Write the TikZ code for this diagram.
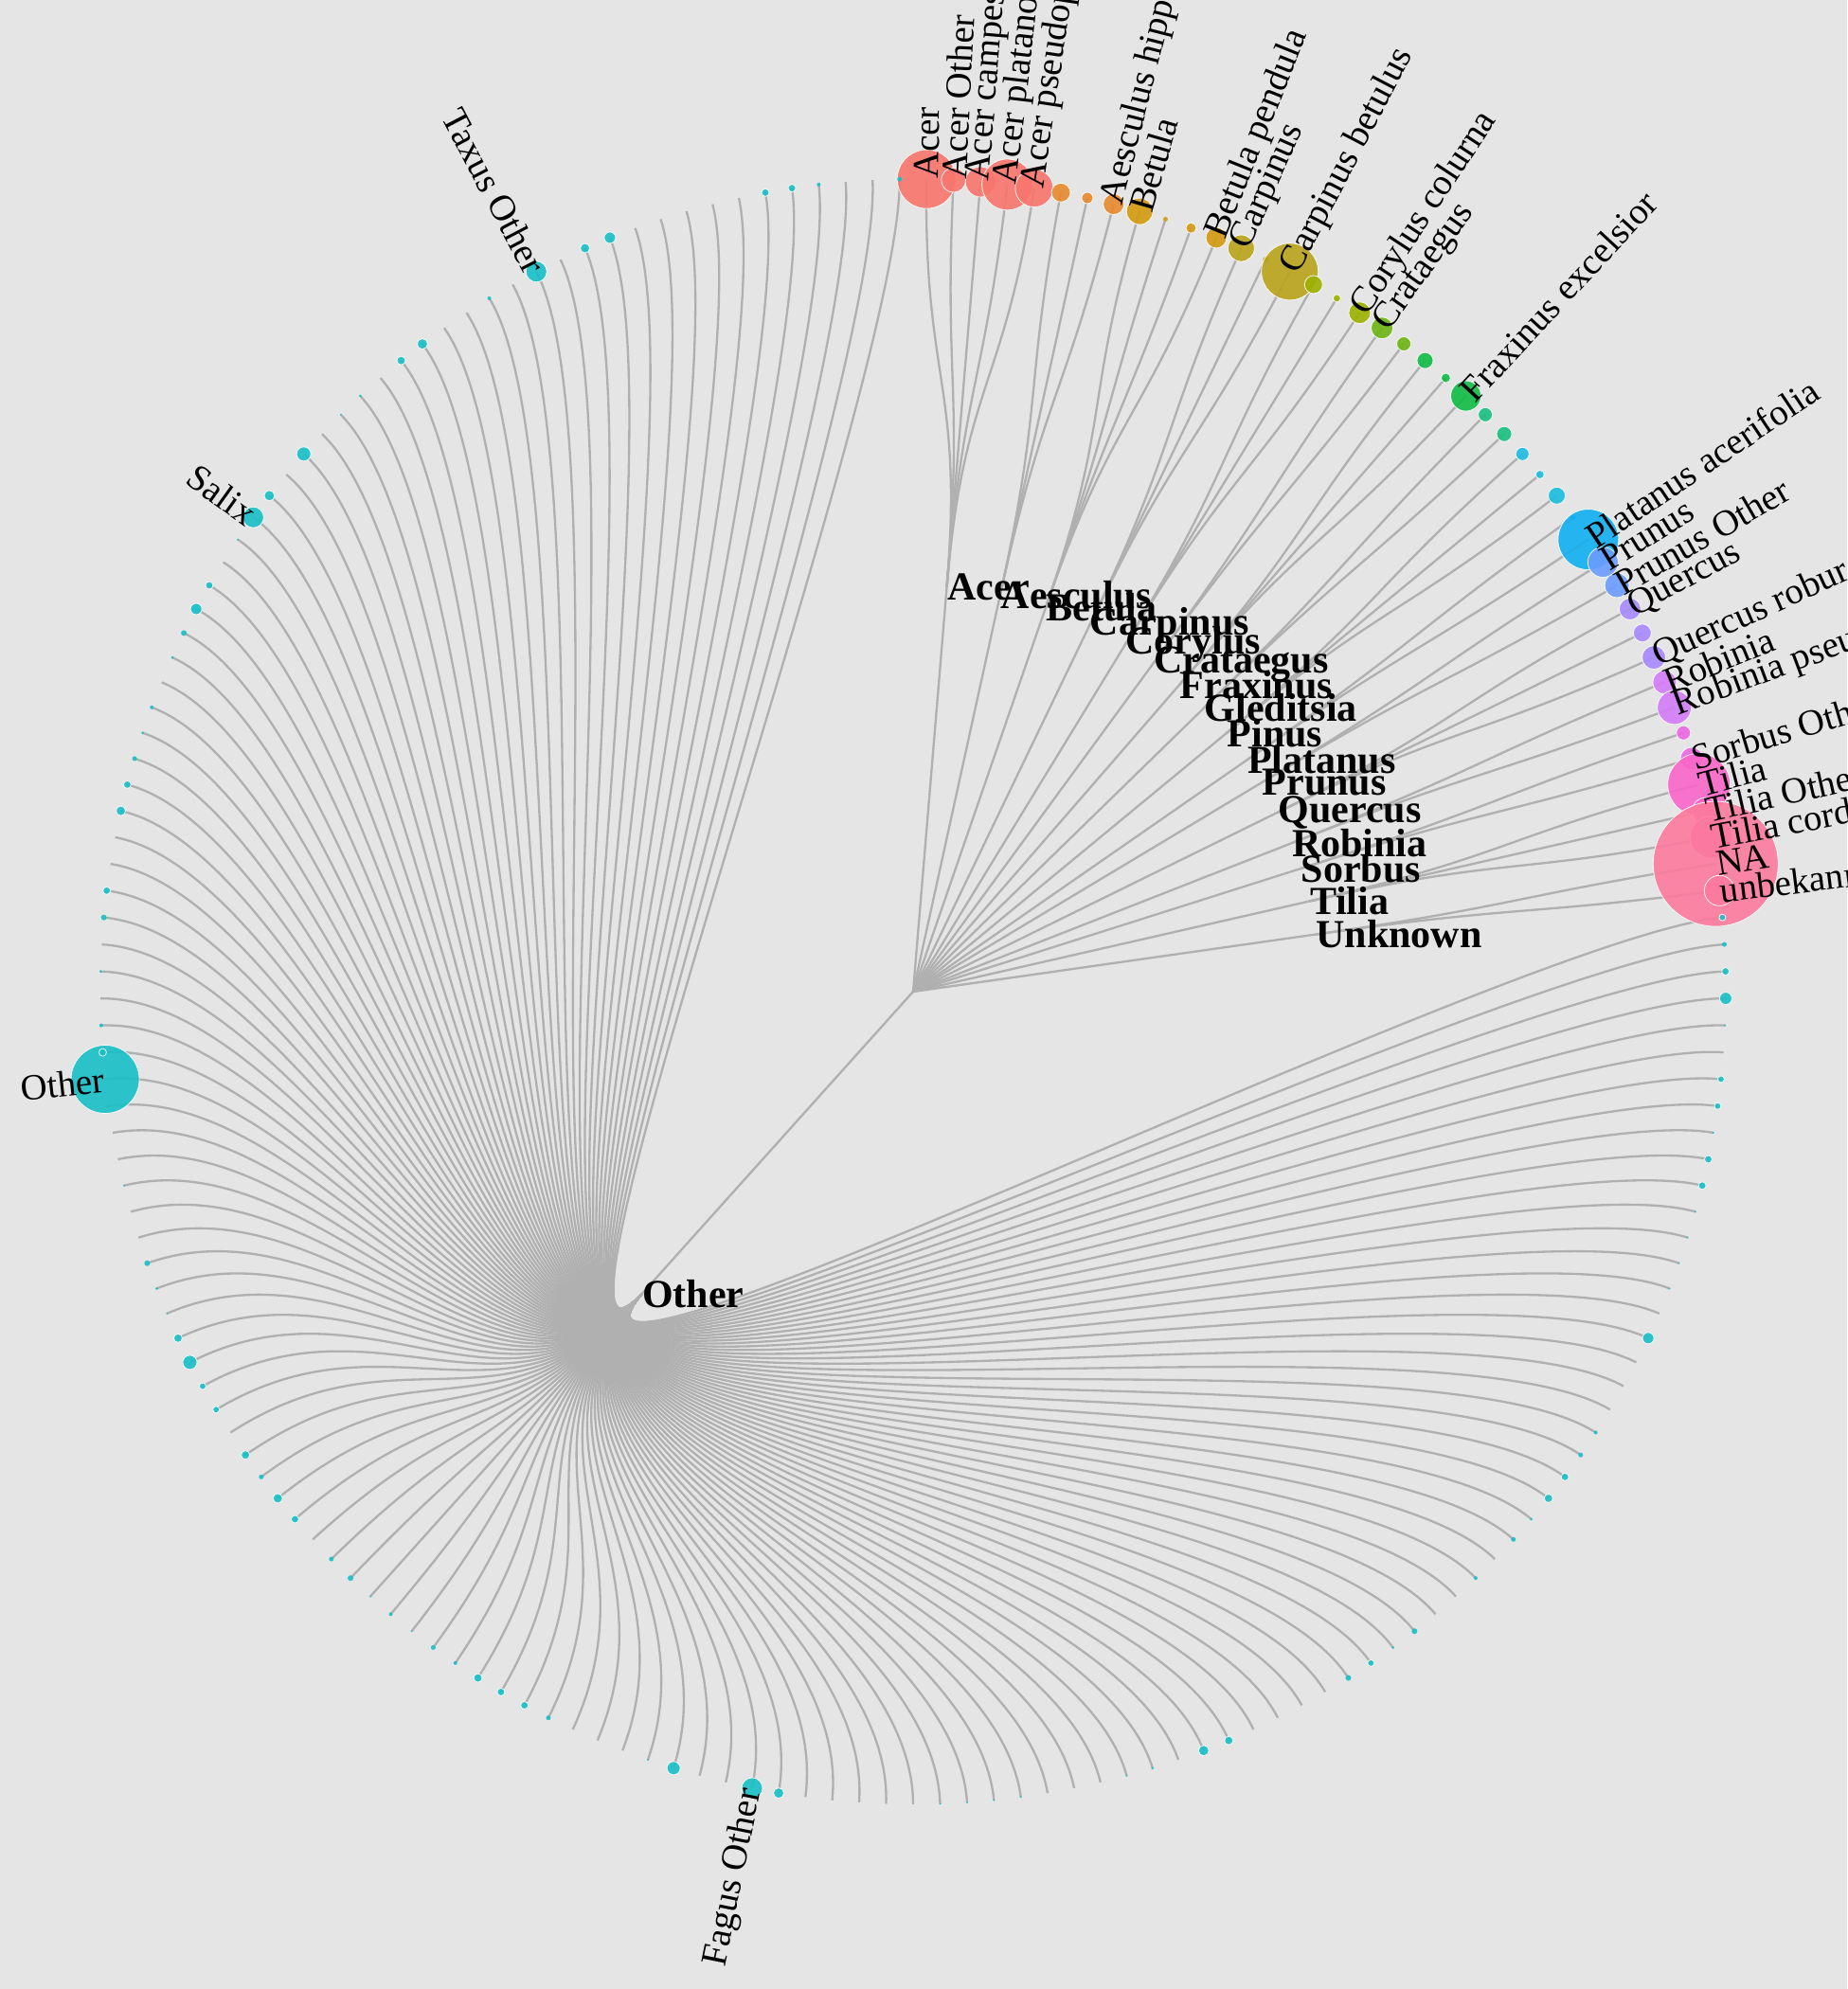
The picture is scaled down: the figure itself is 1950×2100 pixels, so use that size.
\documentclass[tikz,border=0pt]{standalone}
\usepackage{fontspec}
\setmainfont{Liberation Serif}
\usepackage{tikz}
\usetikzlibrary{calc}

\definecolor{panel}{HTML}{E5E5E5}
\definecolor{edgegrey}{HTML}{B0B0B0}
\definecolor{gc-Acer}{HTML}{F8766D}
\definecolor{gc-Aesculus}{HTML}{E8892E}
\definecolor{gc-Betula}{HTML}{D39A10}
\definecolor{gc-Carpinus}{HTML}{B9A31A}
\definecolor{gc-Corylus}{HTML}{9DB000}
\definecolor{gc-Crataegus}{HTML}{6CB512}
\definecolor{gc-Fraxinus}{HTML}{10BC45}
\definecolor{gc-Gleditsia}{HTML}{18BF80}
\definecolor{gc-Pinus}{HTML}{1BBDE0}
\definecolor{gc-Platanus}{HTML}{10AFF2}
\definecolor{gc-Prunus}{HTML}{6A9CFF}
\definecolor{gc-Quercus}{HTML}{A78AFF}
\definecolor{gc-Robinia}{HTML}{D47CF8}
\definecolor{gc-Sorbus}{HTML}{EC66E4}
\definecolor{gc-Tilia}{HTML}{FA66C8}
\definecolor{gc-Unknown}{HTML}{FC7A9D}
\definecolor{gc-Other}{HTML}{17BFC6}

% genus / first leaf / last leaf, clockwise from the top
\def\genera{Acer/0/4, Aesculus/5/7, Betula/8/11, Carpinus/12/14, Corylus/15/17,
  Crataegus/18/19, Fraxinus/20/22, Gleditsia/23/24, Pinus/25/27, Platanus/28/29,
  Prunus/30/31, Quercus/32/34, Robinia/35/36, Sorbus/37/38, Tilia/39/41,
  Unknown/42/43, Other/44/188}
% dot radius of every leaf (px)
\def\radii{{31,13,16,27,20,10,6,11,14,2.5,
  5.5,11,14,3,30,9.5,4,11.5,11.5,7.5,
  8.5,5,16,7.5,8,7,4.5,9,3,32,
  16,13,11.5,9.5,12.5,12.5,18,7.5,12,33,
  14,22,66,16,3.5,2.5,4,6.5,1,0,
  3.5,3.5,1,4,4,1,1,1,1,0,
  6,0,0,0,2,2.5,4,4.5,1.5,2.5,
  0,2,0,0,3,1.5,3.5,3,0,0,
  0,0,4.5,5.5,0,1.5,1,0,0,0,
  1,1,1,1,0,0,0,0,0,5.5,
  11,0,0,7,1,0,0,0,2.5,4,
  4,4.5,2,2.5,1,2,1,3,2.5,0,
  4,5,2.5,4.5,0,3.5,3.5,7.5,4.5,1,
  1.5,3,0,0,1,0,0,1.5,36,4,
  2,0,1.5,0,3,4,0,0,5,4,
  2.5,1.5,2,0,1.5,3,6,4,0,1,
  11,5.5,0,7.5,0,1,1.5,0,4.5,5.5,
  0,0,2,0,11,0,5,6,0,0,
  0,0,0,4,4,2,0,0,2.5}}
\def\stp{1.9047619}

\begin{document}
\begin{tikzpicture}[
  x=0.25pt, y=0.25pt,
  branch/.style={draw=edgegrey, line width=0.58pt},
  leafdot/.style={circle, inner sep=0pt, draw=white, line width=0.2pt,
                  fill opacity=0.9},
  leaflab/.style={inner sep=0pt, font=\fontsize{9.7}{11}\selectfont},
  genlab/.style={inner sep=0pt, anchor=west,
                 font=\fontsize{10.5}{12}\selectfont\bfseries},
]
\fill[panel] (-964,-1053) rectangle (986,1047);
\useasboundingbox (-964,-1053) rectangle (986,1047);
\coordinate (root) at (0,0);

% --- branches: root -> genus -> leaf ---
\foreach \g/\a/\b in \genera {
  \pgfmathsetmacro\tg{90-(\a+\b+1)/2*\stp}
  \coordinate (g-\g) at (\tg:429);
  \draw[branch] (root) -- (g-\g);
  \foreach \i in {\a,...,\b} {
    \pgfmathsetmacro\tl{90-(\i+0.5)*\stp}
    \coordinate (l-\i) at (\tl:858);
    \draw[branch] (g-\g) .. controls (\tg:643.5) and (\tl:643.5) .. (l-\i);
  }
}

% --- leaf dots ---
\foreach \g/\a/\b in \genera {
  \foreach \i in {\a,...,\b} {
    \pgfmathsetmacro\rr{\radii[\i]}
    \pgfmathsetmacro\dop{\rr>3 ? 0.9 : 0}
    \ifdim\rr pt>0pt
      \node[leafdot, fill=gc-\g, draw opacity=\dop,
            minimum size=\rr*0.5pt] (d-\i) at (l-\i) {};
    \fi
  }
}

% --- genus labels ---
\foreach \g/\a/\b in \genera
  \node[genlab] (gl-\g) at (g-\g) {\g};

% --- leaf labels ---
\foreach \i/\t in {0/Acer, 1/Acer Other, 2/Acer campestre, 3/Acer platanoides,
    4/Acer pseudoplatanus, 7/Aesculus hippocastanum, 8/Betula, 11/Betula pendula,
    12/Carpinus, 14/Carpinus betulus, 17/Corylus colurna, 18/Crataegus,
    22/Fraxinus excelsior, 29/Platanus acerifolia, 30/Prunus, 31/Prunus Other,
    32/Quercus, 34/Quercus robur, 35/Robinia, 36/Robinia pseudoacacia,
    38/Sorbus Other, 39/Tilia, 40/Tilia Other, 41/Tilia cordata, 42/NA,
    43/unbekannt} {
  \pgfmathsetmacro\tl{90-(\i+0.5)*\stp}
  \node[leaflab, anchor=west, rotate=\tl] (lab-\i) at (l-\i) {\t};
}
\foreach \i/\t in {100/Fagus Other, 138/Other, 160/Salix, 174/Taxus Other} {
  \pgfmathsetmacro\tl{270-(\i+0.5)*\stp}
  \node[leaflab, anchor=east, rotate=\tl] (lab-\i) at (l-\i) {\t};
}
\end{tikzpicture}
\end{document}
